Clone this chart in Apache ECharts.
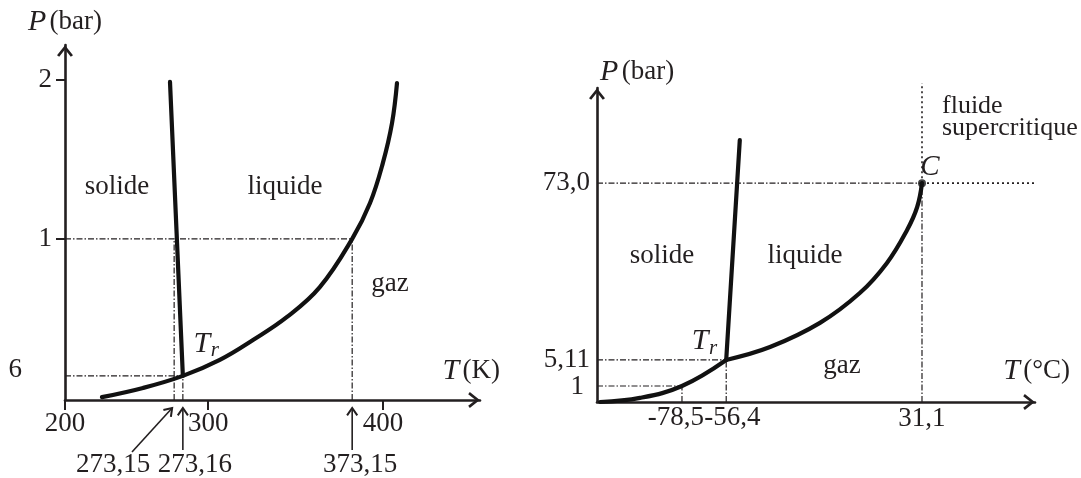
<!DOCTYPE html>
<html><head><meta charset="utf-8">
<script src="https://cdn.jsdelivr.net/npm/echarts@6/dist/echarts.min.js"></script>
<style>html,body{margin:0;padding:0;background:#fff}#c{width:1081px;height:478px}</style>
</head><body><div id="c"></div>
<script>
// Schematic phase diagrams (not to scale): each axis runs 0–100 in diagram units.
const waterTempLabels = ['200', '300', '400'];
const waterTempAt = [0, 34.5, 76.6];
const waterPresLabels = ['6', '1', '2'];
const waterPresAt = [6.8, 45.4, 90.1];
const waterMarkLabels = ['273,15', '273,16', '373,15'];
const waterMarkAt = [26.3, 28.4, 69.2];
const waterVapT = [8.9, 18.8, 28.4, 37.3, 45.3, 53.5, 61.4, 69.2, 73.5, 76.6, 78.8, 80.0];
const waterVapP = [0.8, 3.4, 6.8, 11.3, 16.9, 23.4, 31.8, 45.4, 55.5, 66.8, 78.0, 89.3];
const waterFusT = [28.4, 25.3];
const waterFusP = [6.8, 89.6];

const co2TempLabels = ['-78,5', '-56,4', '31,1'];
const co2TempAt = [19.4, 29.5, 74.2];
const co2PresLabels = ['1', '5,11', '73,0'];
const co2PresAt = [5.1, 13.4, 69.7];
const co2SubT = [0.7, 9.8, 19.4, 29.5];
const co2SubP = [0, 1.3, 5.1, 13.4];
const co2VapT = [29.5, 39.5, 50.9, 60.0, 66.2, 70.8, 73.1, 74.2];
const co2VapP = [13.4, 17.5, 25.2, 34.7, 44.3, 54.8, 62.1, 69.7];
const co2FusT = [29.5, 32.6];
const co2FusP = [13.4, 83.4];

const FONT = "'Liberation Serif','DejaVu Serif','Times New Roman',serif";
const INK = '#231f20';
const FS = 27;
const DASHDOT = [6, 2, 1.5, 2];
const DOTTED = [2, 3];
const ARROW = 'path://M8,0 L16,10 L13.8,11.6 L8,4.2 L2.2,11.6 L0,10 Z';

function zip(xs, ys) { return xs.map((x, i) => [x, ys[i]]); }
function labelFor(ats, labels) {
  return v => { const i = ats.findIndex(a => Math.abs(a - v) < 1e-6); return i < 0 ? '' : labels[i]; };
}
function guide(g, pts, dash, w) {
  return { type: 'line', xAxisIndex: g, yAxisIndex: g, data: pts, symbol: 'none', silent: true,
    clip: false, z: 2, lineStyle: { color: INK, width: w || 1.2, type: dash } };
}
function curve(g, xs, ys, smooth) {
  return { type: 'line', xAxisIndex: g, yAxisIndex: g, data: zip(xs, ys), symbol: 'none', silent: true,
    smooth: smooth, clip: false, z: 5, lineStyle: { color: '#111', width: 4.2, cap: 'round' } };
}
const axisLine = { show: true, symbol: ['none', ARROW], symbolSize: [16, 12], symbolOffset: [0, -6],
  lineStyle: { color: INK, width: 2.6 } };
const nameRich = {
  i: { fontFamily: FONT, fontStyle: 'italic', fontSize: 30, color: INK },
  n: { fontFamily: FONT, fontSize: FS, color: INK }
};
const lab = { fontFamily: FONT, fontSize: FS, color: INK, hideOverlap: false, showMinLabel: true, showMaxLabel: true };

const option = {
  animation: false,
  backgroundColor: '#fff',
  grid: [
    { left: 65, top: 45, width: 415, height: 355 },
    { left: 597, top: 88, width: 438, height: 314 }
  ],
  xAxis: [
    { gridIndex: 0, type: 'value', min: 0, max: 100, axisLine: axisLine, splitLine: { show: false },
      axisTick: { show: true, customValues: waterTempAt, length: 10, inside: false, lineStyle: { color: INK, width: 2 } },
      axisLabel: Object.assign({ customValues: waterTempAt, formatter: labelFor(waterTempAt, waterTempLabels), margin: 10 }, lab),
      name: '{i|T} {n|(K)}', nameLocation: 'end', nameGap: 20,
      nameTextStyle: { align: 'right', verticalAlign: 'bottom', padding: [0, 0, 14, 0], rich: nameRich } },
    { gridIndex: 1, type: 'value', min: 0, max: 100, axisLine: axisLine, splitLine: { show: false },
      axisTick: { show: false },
      // the two close labels (-78,5 / -56,4) are placed as graphic text below, side by side
      axisLabel: Object.assign({ customValues: [co2TempAt[2]], formatter: labelFor(co2TempAt, co2TempLabels), margin: 3 }, lab),
      name: '{i|T} {n|(°C)}', nameLocation: 'end', nameGap: 35,
      nameTextStyle: { align: 'right', verticalAlign: 'bottom', padding: [0, 0, 16, 0], rich: nameRich } }
  ],
  yAxis: [
    { gridIndex: 0, type: 'value', min: 0, max: 100, axisLine: axisLine, splitLine: { show: false },
      axisTick: { show: true, customValues: [waterPresAt[1], waterPresAt[2]], length: 9, lineStyle: { color: INK, width: 2 } },
      axisLabel: Object.assign({ customValues: waterPresAt,
        formatter: v => { const t = labelFor(waterPresAt, waterPresLabels)(v); return t === '6' ? '{far|6}' : t; },
        rich: { far: { fontFamily: FONT, fontSize: FS, color: INK, padding: [0, 30, 12, 0] } },
        margin: 13 }, lab),
      name: '{i|P} {n|(bar)}', nameLocation: 'end', nameGap: 23,
      nameTextStyle: { align: 'center', verticalAlign: 'middle', rich: nameRich } },
    { gridIndex: 1, type: 'value', min: 0, max: 100, axisLine: axisLine, splitLine: { show: false },
      axisTick: { show: false },
      // the close low label "1" is placed as graphic text below
      axisLabel: Object.assign({ customValues: [co2PresAt[1], co2PresAt[2]], formatter: labelFor(co2PresAt, co2PresLabels), margin: 7 }, lab),
      name: '{i|P} {n|(bar)}', nameLocation: 'end', nameGap: 16,
      nameTextStyle: { align: 'left', verticalAlign: 'middle', padding: [0, 0, 0, 3], rich: nameRich } }
  ],
  series: [
    guide(0, [[0, waterPresAt[1]], [waterMarkAt[2], waterPresAt[1]]], DASHDOT),
    guide(0, [[waterMarkAt[2], 0], [waterMarkAt[2], waterPresAt[1]]], DASHDOT),
    guide(0, [[0, waterPresAt[0]], [waterMarkAt[1], waterPresAt[0]]], DASHDOT),
    guide(0, [[waterMarkAt[1], 0], [waterMarkAt[1], waterPresAt[0]]], DASHDOT),
    guide(0, [[waterMarkAt[0], 0], [waterMarkAt[0], waterPresAt[1]]], DASHDOT),
    curve(0, waterVapT, waterVapP, 0.4),
    curve(0, waterFusT, waterFusP, false),
    guide(1, [[0, co2PresAt[0]], [co2TempAt[0], co2PresAt[0]]], DASHDOT),
    guide(1, [[co2TempAt[0], 0], [co2TempAt[0], co2PresAt[0]]], DASHDOT),
    guide(1, [[0, co2PresAt[1]], [co2TempAt[1], co2PresAt[1]]], DASHDOT),
    guide(1, [[co2TempAt[1], 0], [co2TempAt[1], co2PresAt[1]]], DASHDOT),
    guide(1, [[0, co2PresAt[2]], [co2TempAt[2], co2PresAt[2]]], DASHDOT),
    guide(1, [[co2TempAt[2], 0], [co2TempAt[2], co2PresAt[2]]], DASHDOT),
    guide(1, [[co2TempAt[2], co2PresAt[2]], [102.3, co2PresAt[2]]], DOTTED, 1.6),
    guide(1, [[co2TempAt[2], co2PresAt[2]], [co2TempAt[2], 101.6]], DOTTED, 1.6),
    curve(1, co2SubT, co2SubP, 0.4),
    curve(1, co2VapT, co2VapP, 0.4),
    curve(1, co2FusT, co2FusP, false),
    { type: 'scatter', xAxisIndex: 1, yAxisIndex: 1, data: [[co2TempAt[2], co2PresAt[2]]],
      symbol: 'circle', symbolSize: 8, itemStyle: { color: '#111' }, z: 6, silent: true }
  ]
};

const chart = echarts.init(document.getElementById('c'), null, { renderer: 'canvas' });
chart.setOption(option);

function txt(x, y, s, opts) {
  return Object.assign({ type: 'text', x: x, y: y, silent: true, z: 10,
    style: Object.assign({ text: s, fontFamily: FONT, fontSize: FS, fill: INK, align: 'center', verticalAlign: 'middle' }, opts || {}) });
}
function arrowTo(x1, y1, x2, y2) {
  const dx = x2 - x1, dy = y2 - y1, L = Math.hypot(dx, dy), ux = dx / L, uy = dy / L;
  const a = 0.6, h = 9;
  const c = Math.cos(a), s = Math.sin(a);
  const l1 = [x2 - h * (ux * c - uy * s), y2 - h * (uy * c + ux * s)];
  const l2 = [x2 - h * (ux * c + uy * s), y2 - h * (uy * c - ux * s)];
  return [
    { type: 'line', silent: true, z: 10, shape: { x1: x1, y1: y1, x2: x2, y2: y2 }, style: { stroke: INK, lineWidth: 1.6 } },
    { type: 'polyline', silent: true, z: 10, shape: { points: [l1, [x2, y2], l2] }, style: { stroke: INK, lineWidth: 2, fill: null } }
  ];
}
const p = (g, v) => chart.convertToPixel({ gridIndex: g }, v);
const m0 = p(0, [waterMarkAt[0], 0]), m1 = p(0, [waterMarkAt[1], 0]), m2 = p(0, [waterMarkAt[2], 0]);
const tw = p(0, [waterMarkAt[1], waterPresAt[0]]);
const tc = p(1, [co2TempAt[1], co2PresAt[1]]);
const cc = p(1, [co2TempAt[2], co2PresAt[2]]);
const k0 = p(1, [co2TempAt[0], 0]), k1 = p(1, [co2TempAt[1], 0]);
const q0 = p(1, [0, co2PresAt[0]]);
const italic = { fontStyle: 'italic' };
const els = [
  txt(117, 187, 'solide'), txt(285, 187, 'liquide'), txt(390, 284, 'gaz'),
  txt(tw[0] + 19, tw[1] - 32, 'T', Object.assign({ fontSize: 30 }, italic)),
  txt(tw[0] + 32, tw[1] - 25, 'r', Object.assign({ fontSize: 21 }, italic)),
  txt(113, 465, waterMarkLabels[0]), txt(m1[0] + 12, 465, waterMarkLabels[1]), txt(m2[0] + 8, 465, waterMarkLabels[2]),
  ...arrowTo(132, 452, m0[0] - 2, m0[1] + 8),
  ...arrowTo(m1[0], 450, m1[0], m1[1] + 8),
  ...arrowTo(m2[0], 450, m2[0], m2[1] + 8),
  txt(k0[0] + 22, k0[1] + 16, co2TempLabels[0], { align: 'right' }),
  txt(k1[0] - 22, k1[1] + 16, co2TempLabels[1], { align: 'left' }),
  txt(q0[0] - 13, q0[1] + 1, co2PresLabels[0], { align: 'right' }),
  txt(662, 256, 'solide'), txt(805, 256, 'liquide'), txt(842, 366, 'gaz'),
  txt(tc[0] - 26, tc[1] - 19, 'T', Object.assign({ fontSize: 30 }, italic)),
  txt(tc[0] - 13, tc[1] - 11, 'r', Object.assign({ fontSize: 21 }, italic)),
  txt(cc[0] + 20, 106, 'fluide', { align: 'left', fontSize: 26 }),
  txt(cc[0] + 20, 128, 'supercritique', { align: 'left', fontSize: 26 }),
  txt(cc[0] + 8, cc[1] - 16, 'C', Object.assign({ fontSize: 29 }, italic))
];
chart.setOption({ graphic: { elements: els } });
</script>
</body></html>
